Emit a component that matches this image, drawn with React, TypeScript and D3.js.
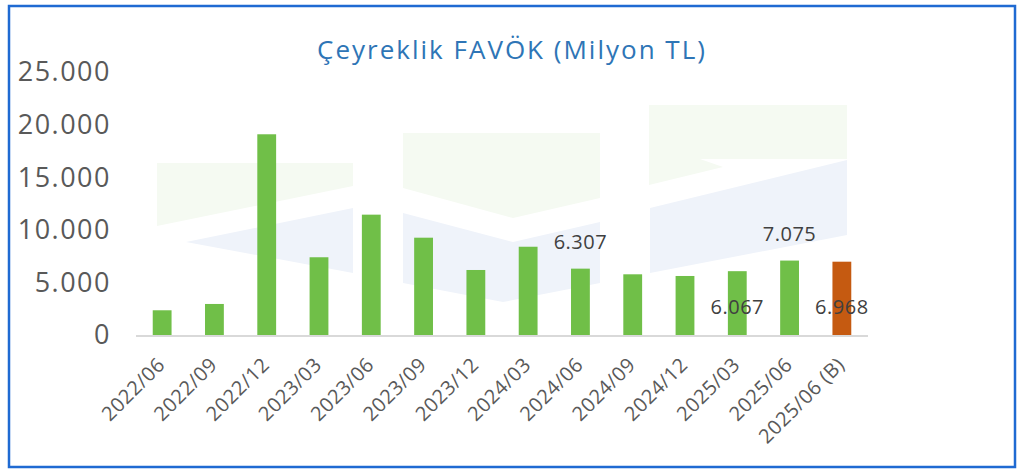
import React from "react";
import * as d3 from "d3";

const title = "Çeyreklik FAVÖK (Milyon TL)";
const periods = [
  "2022/06", "2022/09", "2022/12", "2023/03", "2023/06", "2023/09", "2023/12",
  "2024/03", "2024/06", "2024/09", "2024/12", "2025/03", "2025/06", "2025/06 (B)",
];
const favok = [2350, 2950, 19080, 7390, 11440, 9250, 6180, 8390, 6307, 5770, 5610, 6067, 7075, 6968];
const labelled = ["2024/06", "2025/03", "2025/06", "2025/06 (B)"];
const yTicks = [0, 5000, 10000, 15000, 20000, 25000];

// faint logo watermark behind the bars, in pixel space
const watermark: { pts: [number, number][]; fill: string }[] = [
  { pts: [[157, 163], [353, 163], [353, 186], [157, 226]], fill: "#f5faf2" },
  { pts: [[186, 242], [353, 208], [353, 273]], fill: "#eff3fa" },
  { pts: [[403, 133], [600, 133], [600, 198], [513, 218], [403, 188]], fill: "#f5faf2" },
  { pts: [[403, 213], [513, 242], [600, 222], [600, 283], [503, 302], [403, 283]], fill: "#eff3fa" },
  { pts: [[649, 105], [847, 105], [847, 159], [700, 159], [723, 167], [649, 185]], fill: "#f5faf2" },
  { pts: [[650, 208], [847, 160], [847, 235], [650, 273]], fill: "#eff3fa" },
];

const W = 1024;
const H = 475;
const font = "'Open Sans', 'Noto Sans', sans-serif";
const fmt = (v: number) => d3.format(",")(v).replace(/,/g, ".");

export default function App() {
  const x = d3.scaleBand().domain(periods).range([136, 868]).paddingInner(0.64).paddingOuter(0.32);
  const y = d3.scaleLinear().domain([0, 25000]).range([335, 72]);
  const line = d3.line();

  return (
    <svg width={W} height={H} style={{ position: "absolute", left: 0, top: 0, background: "#fff" }}>
      <rect x={9} y={6} width={1006} height={461} fill="#fff" stroke="#1f6ad2" strokeWidth={2.5} />
      {watermark.map((w, i) => (
        <path key={i} d={line(w.pts) + "Z"} fill={w.fill} />
      ))}
      <text x={512} y={59} textAnchor="middle" fontFamily={font} fontSize={26} letterSpacing={2} fill="#2e75b6">
        {title}
      </text>
      {yTicks.map((t) => (
        <text key={t} x={111} y={y(t)} dy="0.35em" textAnchor="end" fontFamily={font} fontSize={27} letterSpacing={1.5} fill="#595959">
          {fmt(t)}
        </text>
      ))}
      {periods.map((p, i) => (
        <rect
          key={p}
          x={x(p)}
          y={y(favok[i])}
          width={x.bandwidth()}
          height={y(0) - y(favok[i])}
          fill={p.includes("(B)") ? "#c55a11" : "#70bf48"}
        />
      ))}
      <line x1={136} x2={868} y1={y(0) + 1} y2={y(0) + 1} stroke="#d9d9d9" strokeWidth={2} />
      {periods.map((p) => {
        const cx = (x(p) as number) + x.bandwidth() / 2;
        return (
          <text
            key={p}
            transform={`translate(${cx + 4},${366}) rotate(-45)`}
            textAnchor="end"
            fontFamily={font}
            fontSize={20}
            letterSpacing={0.5}
            fill="#595959"
          >
            {p}
          </text>
        );
      })}
      {periods.map((p, i) => {
        if (!labelled.includes(p)) return null;
        const cx = (x(p) as number) + x.bandwidth() / 2;
        const inside = p === "2025/03" || p.includes("(B)");
        const ty = inside ? 307 : y(favok[i]) - 27;
        return (
          <text key={p} x={cx} y={ty} dy="0.35em" textAnchor="middle" fontFamily={font} fontSize={20} letterSpacing={0.5} fill="#404040">
            {fmt(favok[i])}
          </text>
        );
      })}
    </svg>
  );
}
